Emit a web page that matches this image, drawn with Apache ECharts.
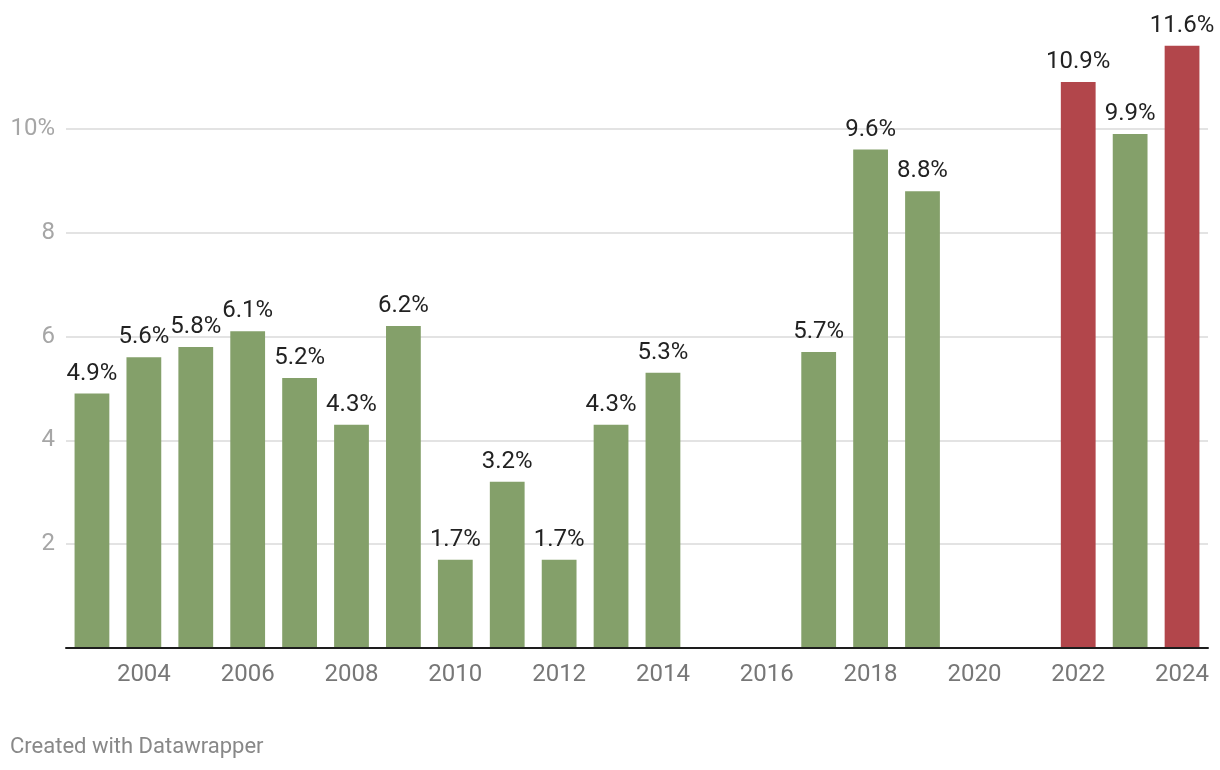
<!DOCTYPE html>
<html>
<head>
<meta charset="utf-8">
<script src="https://cdn.jsdelivr.net/npm/echarts@6/dist/echarts.min.js"></script>
<style>
html,body{margin:0;padding:0;background:#fff;}
#chart{width:1220px;height:770px;}
</style>
</head>
<body>
<div id="chart"></div>
<script>
const years = ['2003','2004','2005','2006','2007','2008','2009','2010','2011','2012','2013','2014','2015','2016','2017','2018','2019','2020','2021','2022','2023','2024'];
const values = [4.9,5.6,5.8,6.1,5.2,4.3,6.2,1.7,3.2,1.7,4.3,5.3,null,null,5.7,9.6,8.8,null,null,10.9,9.9,11.6];
const highlightYears = ['2022','2024'];
const yTicks = [2,4,6,8,10];

const GREEN = '#84a06a';
const RED = '#b2464b';

const chart = echarts.init(document.getElementById('chart'));
chart.setOption({
  animation: false,
  textStyle: { fontFamily: 'Roboto' },
  grid: { left: 66, right: 12, top: 25, bottom: 122, containLabel: false },
  xAxis: {
    type: 'category',
    data: years,
    axisLine: { lineStyle: { color: '#1d1d1d', width: 2 } },
    axisTick: { show: false },
    axisLabel: {
      interval: 0,
      formatter: v => (parseInt(v) % 2 === 0 ? v : ''),
      color: '#777',
      fontSize: 24,
      margin: 15,
      fontFamily: 'Roboto'
    },
    z: 5
  },
  yAxis: {
    type: 'value',
    min: 0, max: 12, interval: 2,
    axisLine: { show: false },
    axisTick: { show: false },
    splitLine: { show: true, showMinLine: false, showMaxLine: false, lineStyle: { color: '#e3e3e3', width: 2 } },
    axisLabel: {
      showMinLabel: false, showMaxLabel: false,
      color: '#a6a6a6', fontSize: 24, margin: 11, fontFamily: 'Roboto',
      formatter: v => (v === 10 ? v + '%' : (yTicks.includes(v) ? String(v) : ''))
    }
  },
  series: [{
    type: 'bar',
    barWidth: '67%',
    data: values.map((v, i) => ({
      value: v,
      itemStyle: { color: highlightYears.includes(years[i]) ? RED : GREEN }
    })),
    label: {
      show: true,
      position: 'top',
      distance: 8,
      color: '#222',
      fontSize: 24,
      fontFamily: 'Roboto',
      formatter: p => (p.value == null ? '' : p.value.toFixed(1) + '%')
    }
  }],
  graphic: [{
    type: 'text',
    left: 10, top: 736,
    style: { text: 'Created with Datawrapper', fill: '#888', font: '22px Roboto' }
  }]
});
</script>
</body>
</html>
